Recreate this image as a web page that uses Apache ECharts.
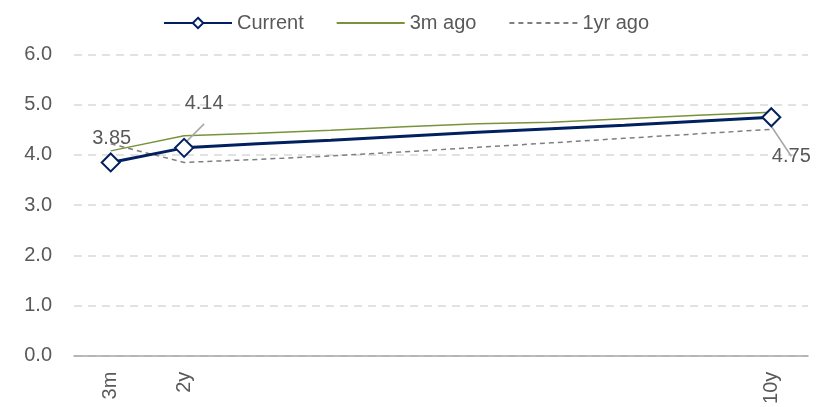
<!DOCTYPE html>
<html>
<head>
<meta charset="utf-8">
<script src="https://cdn.jsdelivr.net/npm/echarts@6/dist/echarts.min.js"></script>
<style>
  html, body { margin: 0; padding: 0; background: #fff; }
  #chart { width: 833px; height: 407px; }
</style>
</head>
<body>
<div id="chart"></div>
<script>
// maturities along the x axis; only some are labelled
const categories = ['3m', '2y', '3y', '4y', '5y', '6y', '7y', '8y', '9y', '10y'];
const tickLabels = ['3m', '2y', '', '', '', '', '', '', '', '10y'];

const current = [3.85, 4.14, 4.22, 4.29, 4.37, 4.45, 4.52, 4.59, 4.67, 4.75];
const ago3m   = [4.08, 4.38, 4.43, 4.49, 4.56, 4.62, 4.65, 4.72, 4.79, 4.85];
const ago1yr  = [4.22, 3.85, 3.91, 3.98, 4.06, 4.15, 4.24, 4.33, 4.42, 4.51];

const yTicks = [0, 1, 2, 3, 4, 5, 6];

const FONT = "'Liberation Sans', Arial, sans-serif";
const GREY = '#595959';

// where each value label sits relative to its marker
const labelSpots = {
  '3m':  { position: 'top', offset: [1, 0], line: false },
  '2y':  { position: 'top', offset: [20, -20], line: true },
  '10y': { position: 'bottom', offset: [20, 15], line: true }
};

let currentData = current.map(function (v, i) {
  let spot = labelSpots[categories[i]];
  if (!tickLabels[i] || !spot) {
    return { value: v, symbol: 'none', label: { show: false } };
  }
  return {
    value: v,
    symbol: 'diamond',
    label: {
      show: true,
      position: spot.position,
      offset: spot.offset,
      distance: 4,
      formatter: function (p) { return p.value.toFixed(2); }
    },
    labelLine: {
      show: spot.line,
      lineStyle: { color: '#a6a6a6', width: 1.5 }
    }
  };
});

let myChart = echarts.init(document.getElementById('chart'));
myChart.setOption({
  animation: false,
  backgroundColor: '#fff',
  textStyle: { fontFamily: FONT },
  legend: {
    left: 158,
    top: 8,
    itemWidth: 68,
    itemHeight: 13,
    itemGap: 32,
    selectedMode: false,
    textStyle: { fontSize: 20, color: GREY, fontFamily: FONT },
    data: [
      { name: 'Current' },
      { name: '3m ago', itemStyle: { opacity: 0 } },
      { name: '1yr ago', itemStyle: { opacity: 0 } }
    ]
  },
  grid: {
    left: 74,
    right: 25,
    top: 54.5,
    bottom: 51.3
  },
  xAxis: {
    type: 'category',
    data: categories,
    boundaryGap: true,
    axisLine: { lineStyle: { color: '#a6a6a6', width: 1.5 } },
    axisTick: { show: false },
    axisLabel: {
      interval: 0,
      rotate: 90,
      margin: 16,
      fontSize: 20,
      color: GREY,
      fontFamily: FONT,
      formatter: function (v, i) { return tickLabels[i]; }
    },
    splitLine: { show: false }
  },
  yAxis: {
    type: 'value',
    min: yTicks[0],
    max: yTicks[yTicks.length - 1],
    interval: 1,
    axisLine: { show: false },
    axisTick: { show: false },
    axisLabel: {
      margin: 22,
      fontSize: 20,
      color: GREY,
      fontFamily: FONT,
      formatter: function (v) { return v.toFixed(1); }
    },
    splitLine: {
      lineStyle: { color: '#d9d9d9', width: 1.5, type: [8, 6] }
    }
  },
  series: [
    {
      name: 'Current',
      type: 'line',
      z: 4,
      data: currentData,
      symbol: 'diamond',
      symbolSize: 18,
      color: '#002060',
      itemStyle: { color: '#fff', borderColor: '#002060', borderWidth: 2 },
      lineStyle: { color: '#002060', width: 3 },
      label: { fontSize: 20, color: GREY, fontFamily: FONT }
    },
    {
      name: '3m ago',
      type: 'line',
      z: 3,
      data: ago3m,
      symbol: 'none',
      color: '#77933c',
      lineStyle: { color: '#77933c', width: 1.5 }
    },
    {
      name: '1yr ago',
      type: 'line',
      z: 2,
      data: ago1yr,
      symbol: 'none',
      color: '#7f7f7f',
      lineStyle: { color: '#7f7f7f', width: 1.5, type: [5, 4] }
    }
  ]
});
</script>
</body>
</html>
